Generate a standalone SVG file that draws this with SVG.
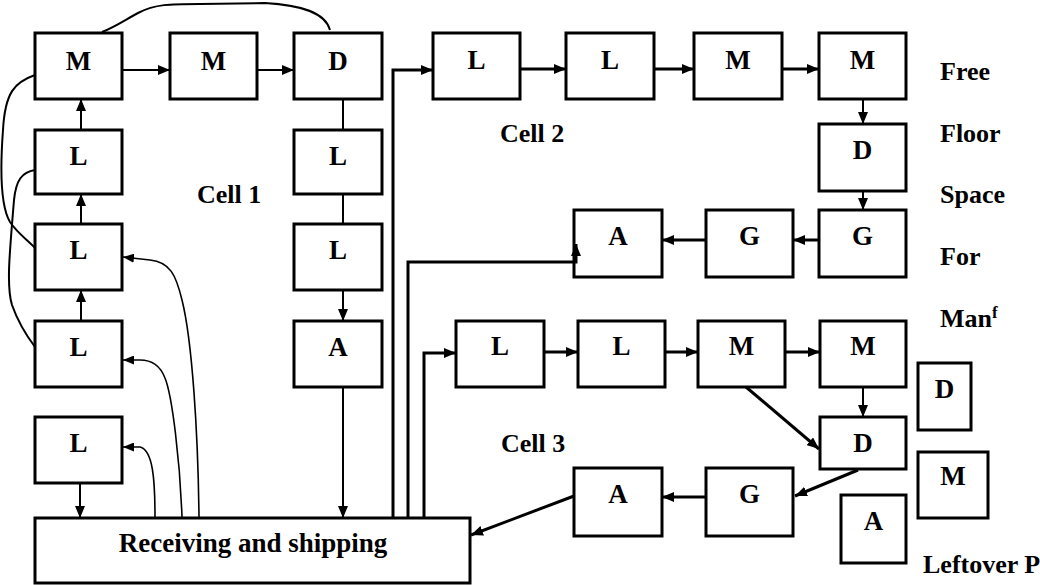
<svg xmlns="http://www.w3.org/2000/svg" width="1040" height="585" viewBox="0 0 1040 585">
<style>
.box{fill:#fff;stroke:#000;stroke-width:3}
.lt{font-family:"Liberation Serif","Times New Roman",serif;font-weight:bold;font-size:27px;text-anchor:middle;fill:#000}
.lb{font-family:"Liberation Serif","Times New Roman",serif;font-weight:bold;font-size:26px;fill:#000}
.c{fill:none;stroke:#000;stroke-width:2}
.t{fill:none;stroke:#000;stroke-width:3}
.f{fill:none;stroke:#000;stroke-width:1.6}
.a{marker-end:url(#ah)}
.as{marker-end:url(#ahs)}
</style>
<defs>
<marker id="ah" markerUnits="userSpaceOnUse" markerWidth="12" markerHeight="10" refX="12" refY="5" orient="auto"><path d="M0,0 L12,5 L0,10 z" fill="#000"/></marker>
<marker id="ahs" markerUnits="userSpaceOnUse" markerWidth="11" markerHeight="9" refX="11" refY="4.5" orient="auto"><path d="M0,0 L11,4.5 L0,9 z" fill="#000"/></marker>
</defs>
<g id="c1m1"><rect class="box" x="35" y="33" width="87" height="66"/><text class="lt" x="78.5" y="70">M</text></g>
<g id="c1m2"><rect class="box" x="170" y="33" width="87" height="66"/><text class="lt" x="213.5" y="70">M</text></g>
<g id="c1d"><rect class="box" x="294" y="33" width="88" height="66"/><text class="lt" x="338" y="70">D</text></g>
<g id="c1l1"><rect class="box" x="35" y="130" width="87" height="64"/><text class="lt" x="78.5" y="165">L</text></g>
<g id="c1l2"><rect class="box" x="35" y="224" width="87" height="66"/><text class="lt" x="78.5" y="259">L</text></g>
<g id="c1l3"><rect class="box" x="35" y="321" width="87" height="66"/><text class="lt" x="78.5" y="356">L</text></g>
<g id="c1l4"><rect class="box" x="35" y="417" width="87" height="66"/><text class="lt" x="78.5" y="452">L</text></g>
<g id="c1l5"><rect class="box" x="294" y="130" width="88" height="64"/><text class="lt" x="338" y="165">L</text></g>
<g id="c1l6"><rect class="box" x="294" y="224" width="88" height="66"/><text class="lt" x="338" y="259">L</text></g>
<g id="c1a"><rect class="box" x="294" y="321" width="88" height="66"/><text class="lt" x="338" y="356">A</text></g>
<g id="recv"><rect class="box" x="35" y="518" width="435" height="65"/><text class="lt" x="253" y="552">Receiving and shipping</text></g>
<g id="c2l1"><rect class="box" x="433" y="33" width="87" height="66"/><text class="lt" x="476.5" y="69">L</text></g>
<g id="c2l2"><rect class="box" x="566" y="33" width="88" height="66"/><text class="lt" x="610" y="69">L</text></g>
<g id="c2m1"><rect class="box" x="694" y="33" width="88" height="66"/><text class="lt" x="738" y="69">M</text></g>
<g id="c2m2"><rect class="box" x="819" y="33" width="87" height="66"/><text class="lt" x="862.5" y="69">M</text></g>
<g id="c2d"><rect class="box" x="819" y="124" width="87" height="67"/><text class="lt" x="862.5" y="159">D</text></g>
<g id="c2g1"><rect class="box" x="819" y="210" width="87" height="67"/><text class="lt" x="862.5" y="245">G</text></g>
<g id="c2g2"><rect class="box" x="706" y="210" width="87" height="67"/><text class="lt" x="749.5" y="245">G</text></g>
<g id="c2a"><rect class="box" x="574" y="210" width="88" height="67"/><text class="lt" x="618" y="245">A</text></g>
<g id="c3l1"><rect class="box" x="456" y="321" width="88" height="66"/><text class="lt" x="500" y="355">L</text></g>
<g id="c3l2"><rect class="box" x="578" y="321" width="87" height="66"/><text class="lt" x="621.5" y="355">L</text></g>
<g id="c3m1"><rect class="box" x="698" y="321" width="87" height="66"/><text class="lt" x="741.5" y="355">M</text></g>
<g id="c3m2"><rect class="box" x="820" y="321" width="86" height="66"/><text class="lt" x="863" y="355">M</text></g>
<g id="c3d"><rect class="box" x="820" y="417" width="86" height="52"/><text class="lt" x="863" y="452">D</text></g>
<g id="c3g"><rect class="box" x="706" y="468" width="87" height="68"/><text class="lt" x="749.5" y="503">G</text></g>
<g id="c3a"><rect class="box" x="574" y="468" width="88" height="68"/><text class="lt" x="618" y="503">A</text></g>
<g id="lod"><rect class="box" x="918" y="363" width="53" height="67"/><text class="lt" x="944.5" y="398">D</text></g>
<g id="lom"><rect class="box" x="918" y="452" width="70" height="66"/><text class="lt" x="953" y="485">M</text></g>
<g id="loa"><rect class="box" x="841" y="495" width="65" height="68"/><text class="lt" x="873.5" y="530">A</text></g>
<g id="labels">
<text class="lb" x="197" y="203">Cell 1</text>
<text class="lb" x="500" y="142">Cell 2</text>
<text class="lb" x="501" y="452">Cell 3</text>
<text class="lb" x="940" y="80">Free</text>
<text class="lb" x="940" y="142">Floor</text>
<text class="lb" x="940" y="203">Space</text>
<text class="lb" x="940" y="265">For</text>
<text class="lb" x="940" y="327">Man<tspan dy="-9" style="font-size:17px">f</tspan></text>
<text class="lb" x="923" y="573">Leftover P</text>
</g>
<g id="connectors">
<path class="c" d="M102,32 C115,27 125,20 138,13 C155,4 170,4 200,4 L265,3 C300,5 325,12 330,30"/>
<path class="c" d="M35,75 C15,82 5,92 3,130 C0,170 0,205 10,222 C18,234 28,240 35,248"/>
<path class="c" d="M35,170 C22,172 16,180 14,200 C10,250 6,285 12,305 C18,322 26,335 35,347"/>
<path class="f as" d="M155,517 C155,480 153,450 140,447 L123,447"/>
<path class="f as" d="M182,517 C180,460 172,395 165,378 C160,365 152,360 140,360 L123,360"/>
<path class="f as" d="M199,517 C198,430 192,340 182,300 C176,275 170,262 150,260 L123,257"/>
<path class="c a" d="M122,70 H170"/>
<path class="c a" d="M257,70 H294"/>
<path class="c a" d="M81,130 V99"/>
<path class="c a" d="M81,224 V194"/>
<path class="c a" d="M81,321 V290"/>
<path class="c a" d="M80,483 V518"/>
<path class="c" d="M343,99 V130"/>
<path class="c" d="M343,194 V224"/>
<path class="c a" d="M343,290 V321"/>
<path class="c a" d="M343,387 V518"/>
<path class="t a" d="M393,518 V70 H433"/>
<path class="t a" d="M520,69 H566"/>
<path class="t a" d="M654,69 H694"/>
<path class="t a" d="M782,69 H819"/>
<path class="c a" d="M863,99 V124"/>
<path class="c a" d="M863,191 V210"/>
<path class="t a" d="M819,240 H793"/>
<path class="t a" d="M706,240 H662"/>
<path class="t a" d="M408,518 V262 H576 V244"/>
<path class="t a" d="M424,518 V353 H456"/>
<path class="t a" d="M544,352 H578"/>
<path class="t a" d="M665,352 H698"/>
<path class="t a" d="M785,352 H820"/>
<path class="c a" d="M863,387 V417"/>
<path class="t a" d="M746,387 L819,449"/>
<path class="t a" d="M858,470 L795,496"/>
<path class="t a" d="M706,497 H662"/>
<path class="t a" d="M574,496 L471,535"/>
</g>
</svg>
